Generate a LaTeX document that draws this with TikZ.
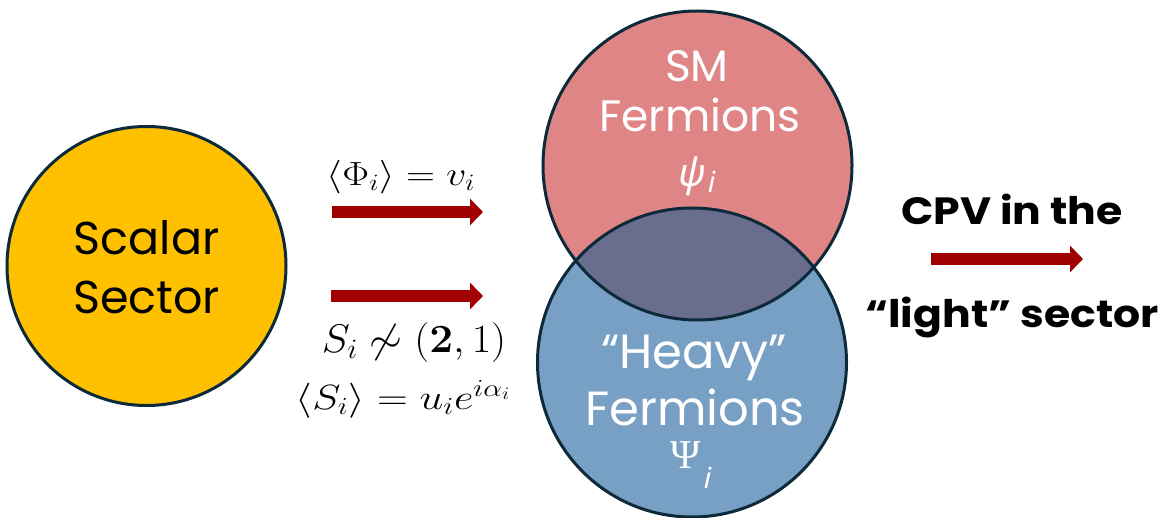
\RequirePackage{fix-cm}
\documentclass[tikz,border=0pt]{standalone}
\usepackage{amssymb}
\usepackage[no-math]{fontspec}
\setmainfont{Poppins}
\newfontfamily\widebold[FakeStretch=1.12]{Poppins}
\newfontfamily\symfont{Liberation Serif}
\newfontfamily\symsans{Noto Sans}
\usetikzlibrary{arrows.meta}
\definecolor{scalarY}{HTML}{FFC000}
\definecolor{smRed}{HTML}{E08585}
\definecolor{heavyB}{HTML}{789FC4}
\definecolor{overlapC}{HTML}{6A6E8E}
\definecolor{outlineC}{HTML}{0D2A3A}
\definecolor{arrowR}{HTML}{A00000}
\tikzset{
  blob/.style={circle, draw=outlineC, line width=3pt, inner sep=0pt},
  bigarrow/.style={arrowR, line width=12.5pt, -{Triangle[length=13pt, width=26pt]}},
  label/.style={inner sep=0pt, anchor=base},
  maintext/.style={label, font=\fontsize{46}{56}\selectfont},
  whitetop/.style={label, text=white, font=\fontsize{44}{50}\selectfont},
  whitebot/.style={label, text=white, font=\fontsize{48}{54}\selectfont},
  greek/.style={label, text=white, font=\fontsize{39}{44}\selectfont},
  mathlbl/.style={inner sep=0pt},
  boldtext/.style={label, font=\fontsize{38}{44}\selectfont\widebold\bfseries},
}
\begin{document}
\begin{tikzpicture}[x=1pt,y=-1pt]
\useasboundingbox (0,0) rectangle (1161,518);
% scalar sector
\node[blob, fill=scalarY, minimum size=279pt] (scalar) at (146.5,266) {};
\node[maintext] (scalarA) at (146.5,255) {Scalar};
\node[maintext] (scalarB) at (146.5,313) {Sector};
% Venn circles
\node[blob, draw=none, fill=smRed, minimum size=309pt] (sm) at (697.5,165.5) {};
\node[blob, draw=none, fill=heavyB, minimum size=309pt] (heavy) at (692,362.5) {};
\begin{scope}
  \clip (697.5,165.5) circle[radius=154.5pt];
  \fill[overlapC] (692,362.5) circle[radius=154.5pt];
\end{scope}
\draw[outlineC, line width=3pt] (sm.center) circle[radius=154.5pt];
\draw[outlineC, line width=3pt] (heavy.center) circle[radius=154.5pt];
\node[whitetop] (smA) at (697,82) {SM};
\node[whitetop] (smB) at (700,132) {Fermions};
\node[greek] (smC) at (697,187) {\symsans\itshape ψ\kern2pt\raisebox{-6pt}{\fontsize{29}{30}\selectfont i}};
\node[whitebot] (hvA) at (694,368) {“Heavy”};
\node[whitebot] (hvB) at (695,425) {Fermions};
\node[greek] (hvC) at (691,468) {\fontsize{41}{44}\selectfont\symfont Ψ\kern3pt\raisebox{-20pt}{\fontsize{29}{30}\selectfont\symsans\itshape i}};
% arrows
\coordinate (a1s) at (332,212);
\coordinate (a1e) at (483,212);
\coordinate (a2s) at (331,296);
\coordinate (a2e) at (483,296);
\coordinate (a3s) at (931,259);
\coordinate (a3e) at (1083,259);
\draw[bigarrow] (a1s) -- (a1e);
\draw[bigarrow] (a2s) -- (a2e);
\draw[bigarrow] (a3s) -- (a3e);
% math labels
\node[mathlbl] (phi) at (401,177) {\scalebox{1.2}[1]{\fontsize{33.5}{38}\selectfont$\langle \Phi_i\rangle = v_i$}};
\node[mathlbl] (srep) at (414,343) {\scalebox{1.06}[1]{\fontsize{40}{44}\selectfont$S_i \not\sim (\mathbf{2},1)$}};
\node[mathlbl] (svev) at (403,399) {\scalebox{1.22}[1]{\fontsize{35}{40}\selectfont$\langle S_i\rangle = u_i e^{i\alpha_i}$}};
% right text
\node[boldtext] (cpvA) at (1012,225) {CPV in the};
\node[boldtext] (cpvB) at (1012,327) {“light” sector};
\end{tikzpicture}
\end{document}
